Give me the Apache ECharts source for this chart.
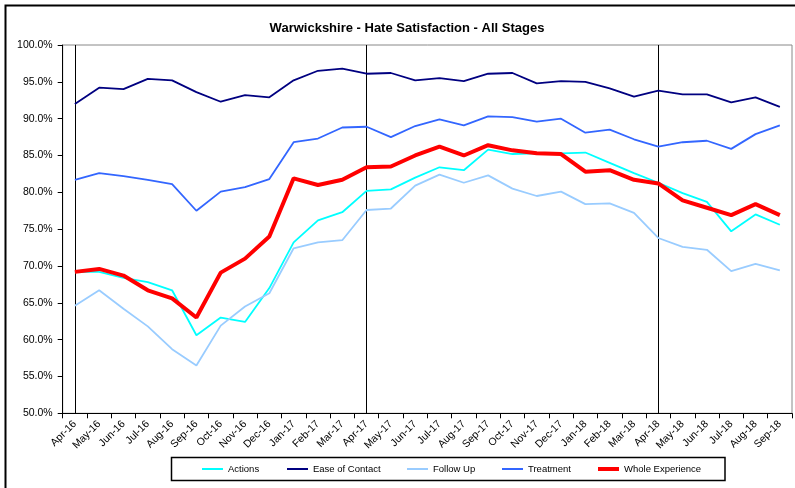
<!DOCTYPE html>
<html>
    <head>
        <meta charset="UTF-8">
        <title>Warwickshire - Hate Satisfaction - All Stages</title>
        <script src="https://cdn.jsdelivr.net/npm/echarts@6.0.0/dist/echarts.min.js"></script>
        <style>
            html, body {
                margin: 0;
                padding: 0;
                background: #fff;
            }
            #chart {
                width: 795px;
                height: 488px;
            }
        </style>
    </head>
    <body>
        <div id="chart"></div>
        <script>
            const months = [
                'Apr-16', 'May-16', 'Jun-16', 'Jul-16', 'Aug-16', 'Sep-16', 'Oct-16', 'Nov-16', 'Dec-16', 'Jan-17',
                'Feb-17', 'Mar-17', 'Apr-17', 'May-17', 'Jun-17', 'Jul-17', 'Aug-17', 'Sep-17', 'Oct-17', 'Nov-17',
                'Dec-17', 'Jan-18', 'Feb-18', 'Mar-18', 'Apr-18', 'May-18', 'Jun-18', 'Jul-18', 'Aug-18', 'Sep-18'
            ];

            // values in percent
            const actions = [
                69.2, 69.2, 68.4, 67.8, 66.7, 60.6, 63.0, 62.4, 67.0, 73.2,
                76.2, 77.3, 80.2, 80.4, 82.0, 83.4, 83.0, 85.8, 85.2, 85.3,
                85.3, 85.4, 84.0, 82.6, 81.3, 79.9, 78.7, 74.7, 77.0, 75.6
            ];
            const easeOfContact = [
                92.0, 94.2, 94.0, 95.4, 95.2, 93.6, 92.3, 93.2, 92.9, 95.2,
                96.5, 96.8, 96.1, 96.2, 95.2, 95.5, 95.1, 96.1, 96.2, 94.8,
                95.1, 95.0, 94.1, 93.0, 93.8, 93.3, 93.3, 92.2, 92.9, 91.6
            ];
            const followUp = [
                64.6, 66.7, 64.2, 61.8, 58.7, 56.5, 61.9, 64.5, 66.3, 72.4,
                73.2, 73.5, 77.6, 77.8, 80.9, 82.4, 81.3, 82.3, 80.5, 79.5,
                80.1, 78.4, 78.5, 77.2, 73.8, 72.6, 72.2, 69.3, 70.3, 69.4
            ];
            const treatment = [
                81.7, 82.6, 82.2, 81.7, 81.1, 77.5, 80.1, 80.7, 81.8, 86.8,
                87.3, 88.8, 88.9, 87.5, 89.0, 89.9, 89.1, 90.3, 90.2, 89.6,
                90.0, 88.1, 88.5, 87.2, 86.2, 86.8, 87.0, 85.9, 87.9, 89.1
            ];
            const wholeExperience = [
                69.2, 69.6, 68.7, 66.7, 65.6, 63.0, 69.1, 71.0, 74.0, 81.9,
                81.0, 81.7, 83.4, 83.5, 85.0, 86.2, 85.0, 86.4, 85.7, 85.3,
                85.2, 82.8, 83.0, 81.7, 81.2, 78.9, 77.9, 76.9, 78.4, 76.9
            ];

            const seriesNames = ['Actions', 'Ease of Contact', 'Follow Up', 'Treatment', 'Whole Experience'];
            const seriesData = [actions, easeOfContact, followUp, treatment, wholeExperience];
            const seriesColors = ['#00ffff', '#000080', '#99ccff', '#3366ff', '#ff0000'];
            const seriesWidths = [1.8, 1.8, 1.8, 1.8, 4];
            const markerMonths = ['Apr-16', 'Apr-17', 'Apr-18'];

            const legendLeft = [202, 287, 407, 502, 598];
            const font = 'Liberation Sans, Arial, sans-serif';

            const series = seriesNames.map(function(name, i) {
                const s = {
                    name: name,
                    type: 'line',
                    data: seriesData[i],
                    symbol: 'none',
                    showSymbol: false,
                    color: seriesColors[i],
                    lineStyle: { width: seriesWidths[i], color: seriesColors[i] },
                    z: 3 + i
                };
                if ( i === 0 ) {
                    s.markLine = {
                        silent: true,
                        symbol: ['none', 'none'],
                        label: { show: false },
                        lineStyle: { color: '#000', width: 1, type: 'solid' },
                        z: 1,
                        data: markerMonths.map(function(m) { return { xAxis: m }; })
                    };
                }
                return s;
            });

            const legends = seriesNames.map(function(name, i) {
                return {
                    data: [name],
                    left: legendLeft[i],
                    top: 464,
                    padding: 0,
                    icon: 'rect',
                    itemWidth: 21,
                    itemHeight: seriesWidths[i] > 2 ? 4 : 2,
                    selectedMode: false,
                    textStyle: { fontFamily: font, fontSize: 9.5, color: '#000' }
                };
            });

            const chart = echarts.init( document.getElementById('chart') );
            chart.setOption({
                animation: false,
                backgroundColor: '#fff',
                title: {
                    text: 'Warwickshire - Hate Satisfaction - All Stages',
                    left: 402,
                    top: 17,
                    textAlign: 'center',
                    textStyle: { fontFamily: font, fontSize: 13, fontWeight: 'bold', color: '#000' }
                },
                grid: {
                    left: 62.7,
                    top: 45,
                    right: 3,
                    bottom: 74.7,
                    show: true,
                    borderColor: '#888',
                    borderWidth: 1,
                    containLabel: false
                },
                xAxis: {
                    type: 'category',
                    data: months,
                    boundaryGap: true,
                    axisLine: { lineStyle: { color: '#000', width: 1 } },
                    axisTick: { show: true, length: 5, lineStyle: { color: '#000' } },
                    axisLabel: {
                        rotate: 45,
                        interval: 0,
                        margin: 9,
                        fontFamily: font,
                        fontSize: 10.5,
                        color: '#000'
                    },
                    splitLine: { show: false }
                },
                yAxis: {
                    type: 'value',
                    min: 50,
                    max: 100,
                    interval: 5,
                    axisLine: { show: true, lineStyle: { color: '#000', width: 1 } },
                    axisTick: { show: true, length: 5, lineStyle: { color: '#000' } },
                    axisLabel: {
                        margin: 10,
                        fontFamily: font,
                        fontSize: 10.5,
                        color: '#000',
                        formatter: function(v) { return v.toFixed(1) + '%'; }
                    },
                    splitLine: { show: false }
                },
                legend: legends,
                graphic: [
                    {
                        type: 'rect',
                        shape: { x: 5.5, y: 5.5, width: 820, height: 520 },
                        style: { fill: 'none', stroke: '#000', lineWidth: 2 },
                        silent: true
                    },
                    {
                        type: 'rect',
                        shape: { x: 171.5, y: 457.5, width: 553.5, height: 23 },
                        style: { fill: 'none', stroke: '#000', lineWidth: 1.5 },
                        silent: true,
                        z: -1
                    }
                ],
                series: series
            });
        </script>
    </body>
</html>
